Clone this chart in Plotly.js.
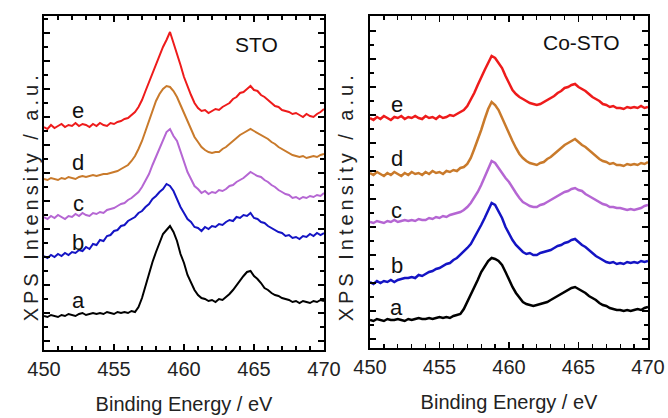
<!DOCTYPE html>
<html>
<head>
<meta charset="utf-8">
<script src="https://cdn.plot.ly/plotly-3.0.1.min.js"></script>
<style>
html,body{margin:0;padding:0;background:#fff;}
#chart{width:668px;height:418px;}
</style>
</head>
<body>
<div id="chart"></div>
<script>
// Binding energy grid (eV)
const energy = [450,450.25,450.5,450.75,451,451.25,451.5,451.75,452,452.25,452.5,452.75,453,453.25,453.5,453.75,454,454.25,454.5,454.75,455,455.25,455.5,455.75,456,456.25,456.5,456.75,457,457.25,457.5,457.75,458,458.25,458.5,458.75,459,459.25,459.5,459.75,460,460.25,460.5,460.75,461,461.25,461.5,461.75,462,462.25,462.5,462.75,463,463.25,463.5,463.75,464,464.25,464.5,464.75,465,465.25,465.5,465.75,466,466.25,466.5,466.75,467,467.25,467.5,467.75,468,468.25,468.5,468.75,469,469.25,469.5,469.75,470];

const sampleLabels = ["a","b","c","d","e"];
const panelLabels = ["STO","Co-STO"];
const xTickLabels = ["450","455","460","465","470"];

// STO panel (offset intensities, a.u.)
const sto_a = [34,33,35,34,33,35,34,36,35,34,36,37,35,36,37,36,37,36,38,37,36,38,37,38,37,39,38,43,52,64,77,88,98,107,116,120,124,118,109,96,87,75,67,60,55,52,51,49,50,48,51,50,53,56,60,65,70,74,78,79,74,71,67,62,60,57,55,54,52,51,50,48,49,47,49,48,47,49,48,50,49];
const sto_b = [94,92,95,93,96,94,97,95,98,97,100,99,103,101,106,105,110,109,114,115,119,120,124,125,129,131,133,137,139,143,146,151,154,158,161,166,164,159,151,143,137,131,128,123,122,119,123,121,124,123,126,125,128,130,129,133,132,135,134,137,132,131,128,127,124,122,120,118,117,114,115,112,113,111,114,113,116,114,117,115,117];
const sto_c = [133,131,134,132,135,133,131,134,133,136,134,137,135,134,137,136,138,137,140,141,142,144,146,147,150,152,155,158,163,169,176,185,193,202,209,218,221,214,209,198,188,178,171,164,161,157,159,156,158,157,160,159,161,164,165,168,170,172,175,178,176,174,173,170,168,165,163,160,158,156,155,152,153,151,153,152,154,153,155,154,157];
const sto_d = [171,170,172,171,170,172,171,173,172,171,173,174,173,174,175,174,175,176,176,177,178,179,181,183,185,189,194,201,209,219,229,240,249,256,261,264,263,259,253,245,237,228,220,213,208,203,200,198,197,198,198,201,203,206,209,212,215,217,219,221,219,217,215,213,211,208,206,203,201,199,197,195,194,193,194,192,193,194,193,195,196];
const sto_e = [223,221,225,222,224,226,223,225,224,227,224,226,225,223,226,224,227,225,224,227,226,228,229,231,232,235,238,243,250,259,268,278,287,296,303,310,318,307,297,285,273,263,255,247,242,239,240,237,239,241,240,243,245,247,251,253,257,258,261,264,260,259,255,253,250,247,244,243,240,239,238,236,237,235,233,236,234,233,236,238,241];

// Co-STO panel (offset intensities, a.u.)
const costo_a = [28,27,29,28,27,29,28,28,29,28,27,29,28,29,30,29,29,30,29,30,31,30,31,30,32,33,34,39,46,53,60,68,76,82,87,90,89,87,83,76,68,61,55,50,46,44,43,42,43,44,45,46,48,50,52,54,56,58,60,61,59,57,55,52,50,48,45,43,42,40,39,38,38,37,38,37,38,39,38,40,41];
const costo_b = [66,64,67,65,67,66,68,66,68,69,70,70,71,70,73,72,74,76,77,79,80,82,84,85,88,90,93,96,100,104,110,116,123,130,138,145,143,137,130,121,114,108,103,99,96,94,95,93,93,95,96,97,98,100,102,103,105,106,108,109,106,103,101,98,95,92,90,88,86,85,86,84,85,84,86,85,86,85,87,86,87];
const costo_c = [126,125,127,126,125,127,126,128,126,127,128,127,128,127,129,128,128,130,129,131,130,132,131,133,134,135,136,138,141,145,150,156,163,171,180,187,185,180,174,170,166,160,155,150,146,144,142,141,141,143,144,146,148,150,152,154,156,157,159,160,158,157,154,152,150,148,146,144,143,141,141,140,140,139,138,139,138,139,140,142,143];
const costo_d = [175,173,176,174,172,175,173,176,174,172,175,173,176,174,175,173,176,174,177,175,176,174,177,176,178,177,180,181,184,190,199,208,218,229,239,246,243,238,230,222,215,207,200,194,190,187,185,184,183,185,186,189,191,194,197,200,203,205,207,209,206,203,201,198,195,192,189,187,186,184,185,183,183,182,184,183,184,183,185,184,186];
const costo_e = [230,228,231,229,232,230,228,231,230,232,229,231,230,232,230,229,232,230,231,229,232,230,231,233,232,234,236,238,242,248,255,263,271,278,285,292,290,285,280,272,265,258,254,251,249,247,245,244,243,244,246,248,250,252,255,257,260,261,263,264,261,259,257,254,251,249,247,244,243,241,242,240,240,239,241,240,241,240,242,240,241];

const colors = ["#000000","#1414c4","#b566d3","#c97a2b","#ee1b1b"];
const stoSeries = [sto_a, sto_b, sto_c, sto_d, sto_e];
const costoSeries = [costo_a, costo_b, costo_c, costo_d, costo_e];

const traces = [];
stoSeries.forEach((ys, i) => traces.push({
  x: energy, y: ys, type: "scatter", mode: "lines", xaxis: "x", yaxis: "y",
  line: {color: colors[i], width: 2}, hoverinfo: "skip"
}));
costoSeries.forEach((ys, i) => traces.push({
  x: energy, y: ys, type: "scatter", mode: "lines", xaxis: "x2", yaxis: "y2",
  line: {color: colors[i], width: 2.5}, hoverinfo: "skip"
}));

const FONT = "Liberation Sans, Arial, sans-serif";
function xAxis(domain, anchor) {
  return {
    domain: domain, anchor: anchor, range: [450, 470],
    tickmode: "array", tickvals: xTickLabels.map(Number), ticktext: xTickLabels,
    ticks: "inside", ticklen: 6, tickwidth: 1.5, tickcolor: "#000",
    minor: {dtick: 1, tick0: 450, ticks: "inside", ticklen: 4, tickwidth: 1.3, tickcolor: "#000", showgrid: false},
    mirror: "allticks", showline: true, linewidth: 2.4, linecolor: "#000",
    showgrid: false, zeroline: false,
    tickfont: {family: FONT, size: 20, color: "#222"},
    title: {text: "Binding Energy / eV", font: {family: FONT, size: 20, color: "#222"}, standoff: 18}
  };
}
function yAxis(domain, anchor, top) {
  return {
    domain: domain, anchor: anchor, range: [0, top],
    showticklabels: false, tick0: 9, dtick: 28,
    ticks: "inside", ticklen: 6, tickwidth: 1.5, tickcolor: "#000",
    minor: {dtick: 14, tick0: 9, ticks: "inside", ticklen: 4, tickwidth: 1.3, tickcolor: "#000", showgrid: false},
    mirror: "allticks", showline: true, linewidth: 2.4, linecolor: "#000",
    showgrid: false, zeroline: false
  };
}

const annFont = {family: FONT, size: 22, color: "#111"};
const panelFont = {family: FONT, size: 21, color: "#111"};
const annotations = [];
const leftLabelY = [50, 108, 147, 188, 240];
const rightLabelY = [41, 83, 138, 190, 244];
sampleLabels.forEach((t, i) => {
  annotations.push({xref: "x", yref: "y", x: 452.43, y: leftLabelY[i], text: t, showarrow: false, font: annFont});
  annotations.push({xref: "x2", yref: "y2", x: 451.94, y: rightLabelY[i], text: t, showarrow: false, font: annFont});
});
annotations.push({xref: "x", yref: "y", x: 465.2, y: 306, text: panelLabels[0], showarrow: false, font: panelFont});
annotations.push({xref: "x2", yref: "y2", x: 465.25, y: 306, text: panelLabels[1], showarrow: false, font: panelFont});
annotations.push({xref: "paper", yref: "paper", x: 18/668, y: 0.46, text: "XPS Intensity / a.u.", textangle: -90, showarrow: false, font: {family: FONT, size: 20, color: "#222"}});
annotations.push({xref: "paper", yref: "paper", x: 346/668, y: 0.46, text: "XPS Intensity / a.u.", textangle: -90, showarrow: false, font: {family: FONT, size: 20, color: "#222"}});

const layout = {
  width: 668, height: 418,
  margin: {l: 0, r: 0, t: 16, b: 68},
  paper_bgcolor: "#fff", plot_bgcolor: "#fff",
  showlegend: false,
  xaxis: xAxis([44/668, 324/668], "y"),
  yaxis: yAxis([0, 1], "x", 334),
  xaxis2: xAxis([370/668, 648/668], "y2"),
  yaxis2: yAxis([2/334, 1], "x2", 332),
  annotations: annotations
};

Plotly.newPlot("chart", traces, layout, {staticPlot: true}).then(() => {
  document.querySelectorAll("g.annotation text.annotation-text").forEach(el => {
    if (el.textContent.indexOf("XPS") === 0) el.style.letterSpacing = "4px";
  });
});
</script>
</body>
</html>
